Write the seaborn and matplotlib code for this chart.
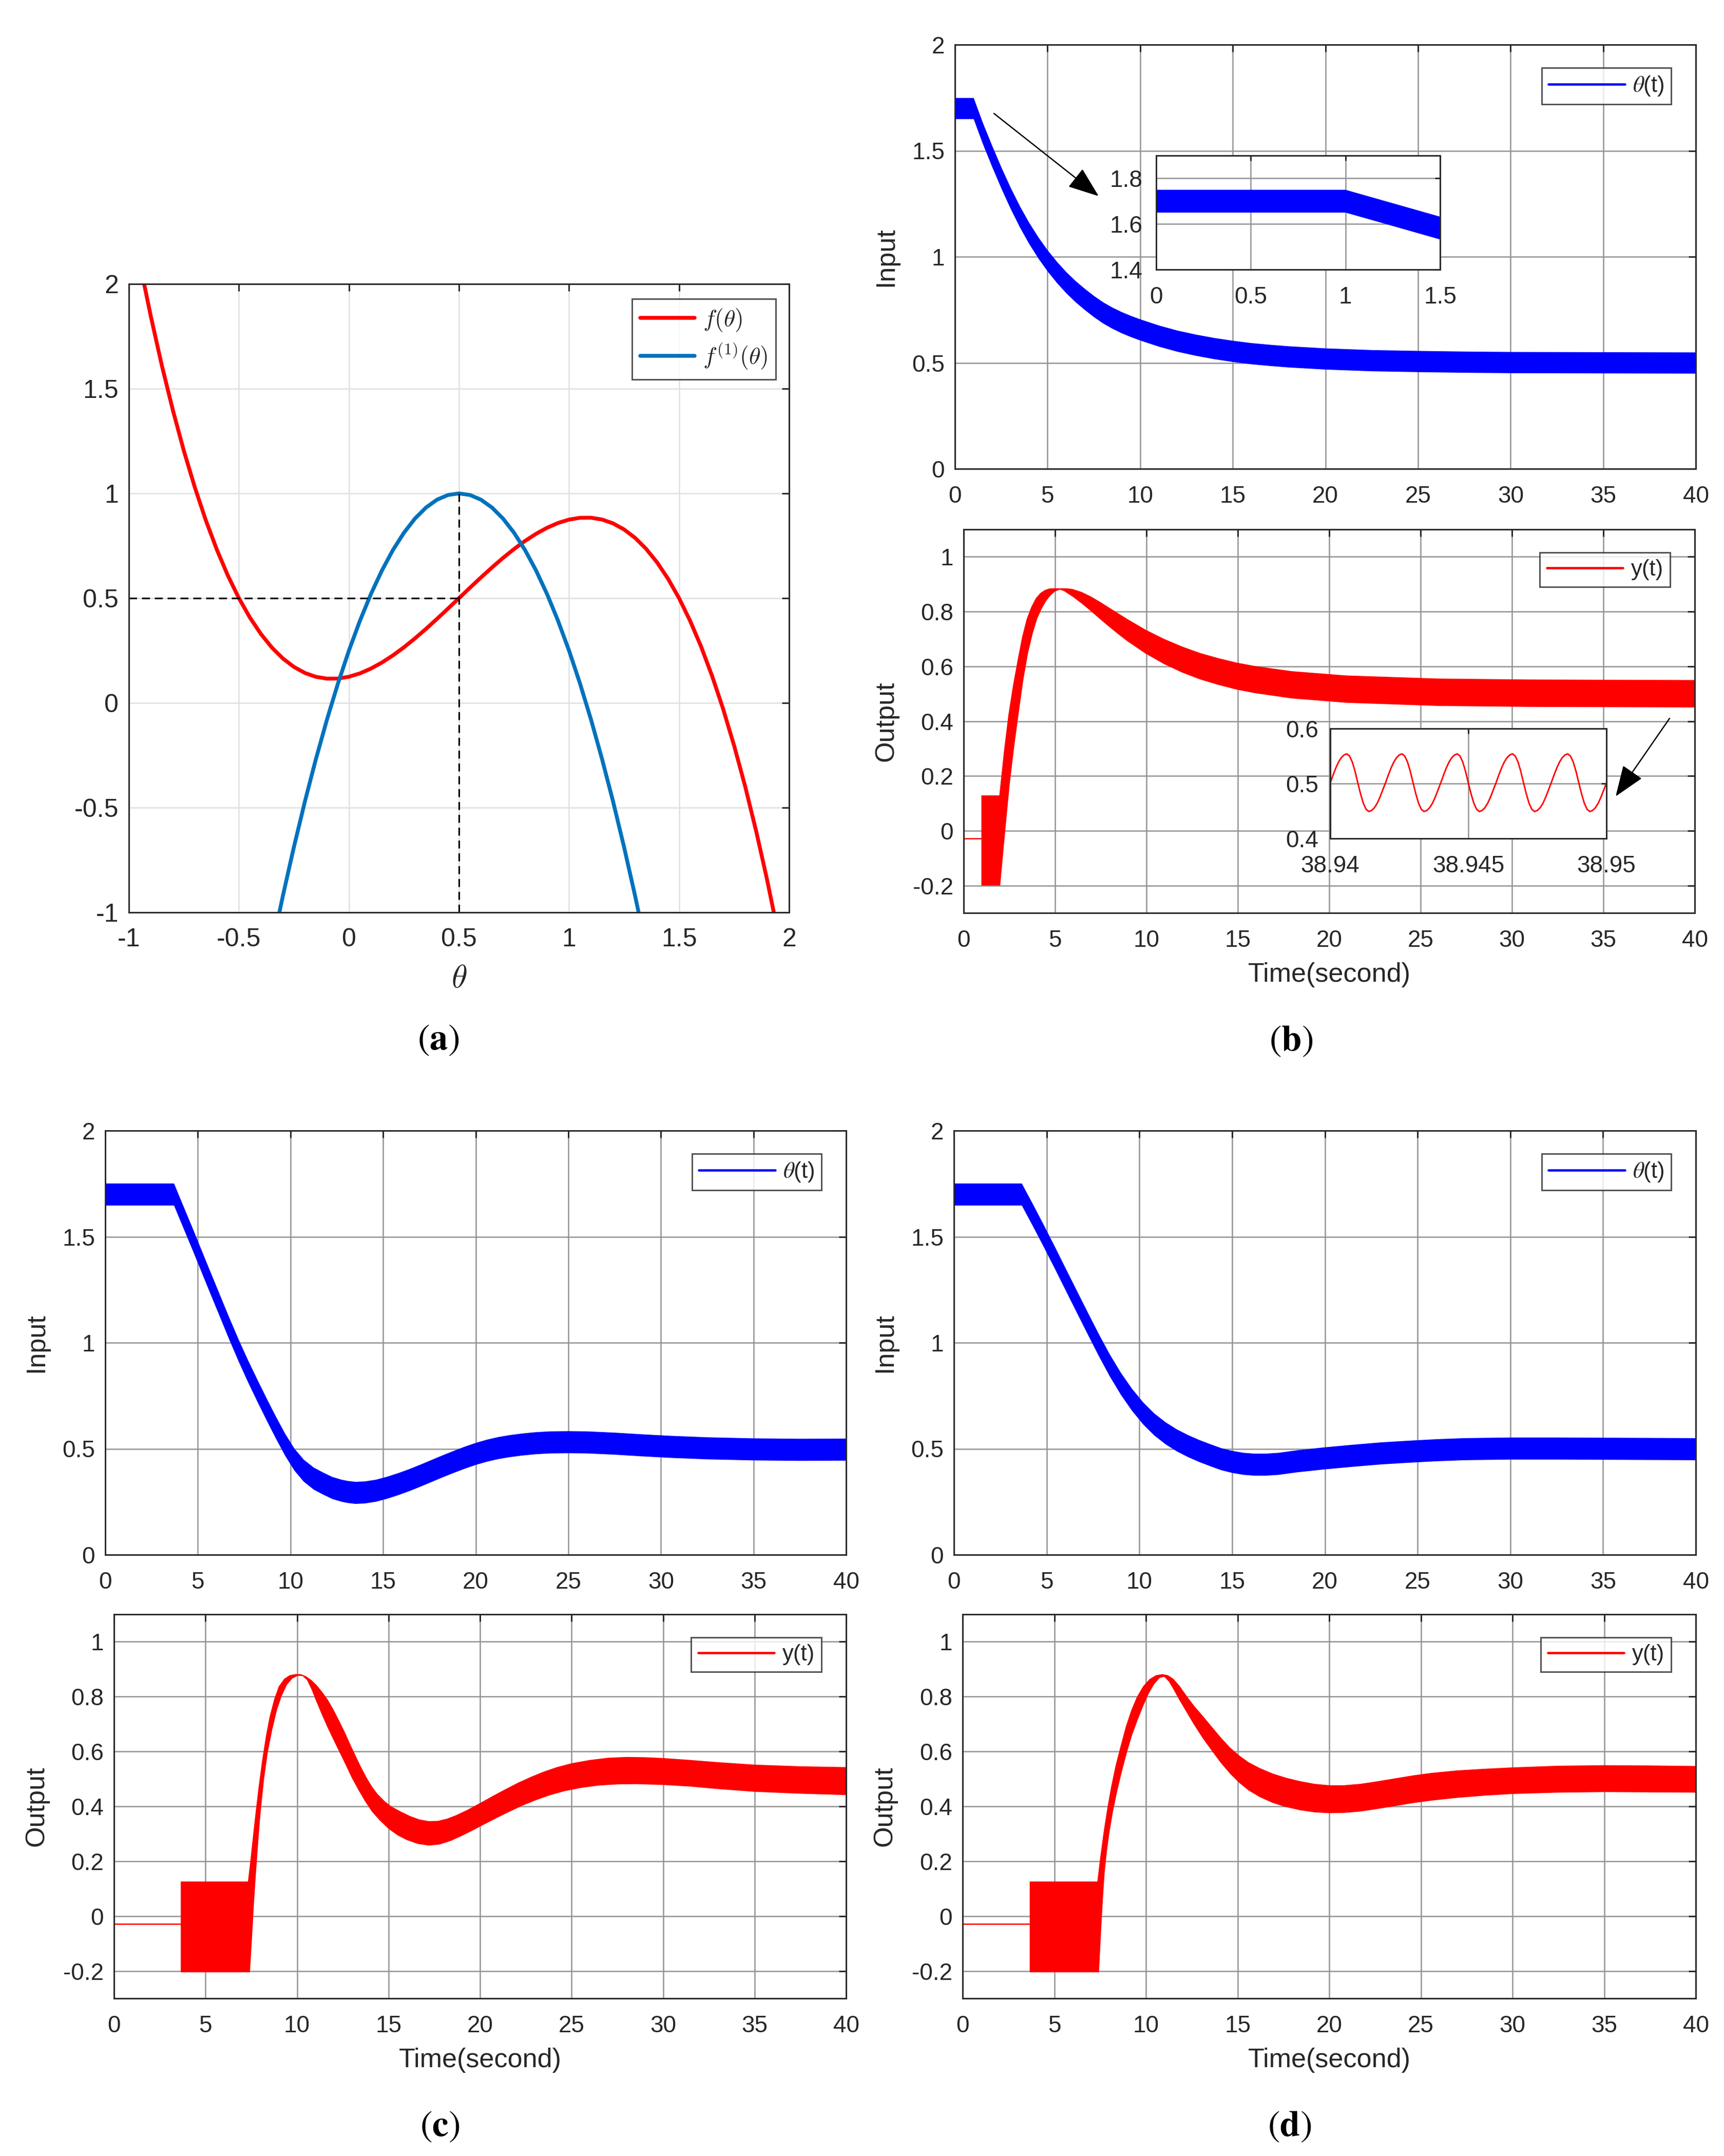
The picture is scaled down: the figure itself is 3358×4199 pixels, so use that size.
import numpy as np
import matplotlib
matplotlib.use("Agg")
import matplotlib.pyplot as plt
import seaborn as sns
from matplotlib.lines import Line2D
from matplotlib.patches import FancyArrowPatch
from matplotlib.ticker import FormatStrFormatter

# ---------------- data ----------------
# panel (a): f(theta) and its first derivative
theta_a = [-0.95, -0.90, -0.85, -0.80, -0.75, -0.70, -0.65, -0.60, -0.55, -0.50,
           -0.45, -0.40, -0.35, -0.30, -0.25, -0.20, -0.15, -0.10, -0.05, 0.00,
           0.05, 0.10, 0.15, 0.20, 0.25, 0.30, 0.35, 0.40, 0.45, 0.50,
           0.55, 0.60, 0.65, 0.70, 0.75, 0.80, 0.85, 0.90, 0.95, 1.00,
           1.05, 1.10, 1.15, 1.20, 1.25, 1.30, 1.35, 1.40, 1.45, 1.50,
           1.55, 1.60, 1.65, 1.70, 1.75, 1.80, 1.85, 1.90, 1.95]
f_a = [2.0986, 1.844, 1.6104, 1.397, 1.2031, 1.028, 0.8709, 0.731, 0.6076, 0.5,
       0.4074, 0.329, 0.2641, 0.212, 0.1719, 0.143, 0.1246, 0.116, 0.1164, 0.125,
       0.1411, 0.164, 0.1929, 0.227, 0.2656, 0.308, 0.3534, 0.401, 0.4501, 0.5,
       0.5499, 0.599, 0.6466, 0.692, 0.7344, 0.773, 0.8071, 0.836, 0.8589, 0.875,
       0.8836, 0.884, 0.8754, 0.857, 0.8281, 0.788, 0.7359, 0.671, 0.5926, 0.5,
       0.3924, 0.269, 0.1291, -0.028, -0.2031, -0.397, -0.6104, -0.844, -1.0986]
theta_d = [-0.35, -0.30, -0.25, -0.20, -0.15, -0.10, -0.05, 0.00, 0.05, 0.10,
           0.15, 0.20, 0.25, 0.30, 0.35, 0.40, 0.45, 0.50, 0.55, 0.60,
           0.65, 0.70, 0.75, 0.80, 0.85, 0.90, 0.95, 1.00, 1.05, 1.10,
           1.15, 1.20, 1.25, 1.30, 1.35]
fd_a = [-1.1675, -0.92, -0.6875, -0.47, -0.2675, -0.08, 0.0925, 0.25, 0.3925, 0.52,
        0.6325, 0.73, 0.8125, 0.88, 0.9325, 0.97, 0.9925, 1.0, 0.9925, 0.97,
        0.9325, 0.88, 0.8125, 0.73, 0.6325, 0.52, 0.3925, 0.25, 0.0925, -0.08,
        -0.2675, -0.47, -0.6875, -0.92, -1.1675]
guide_h_x = [-1.0, 0.5]
guide_h_y = [0.5, 0.5]
guide_v_x = [0.5, 0.5]
guide_v_y = [-1.0, 1.0]

# panel (b): input band theta(t) (upper / lower envelope)
t_b_in = [0, 1.0, 1.5, 2.0, 2.5, 3.0, 3.5, 4.0, 4.5, 5.0, 5.5, 6.0, 6.5, 7.0, 7.5, 8.0,
          8.5, 9.0, 9.5, 10, 11, 12, 13, 14, 15, 16, 17, 18, 20, 22.5, 25, 27.5, 30, 35, 40]
up_b_in = [1.75, 1.75, 1.632, 1.524, 1.422, 1.326, 1.239, 1.161, 1.092, 1.031,
           0.977, 0.929, 0.887, 0.85, 0.816, 0.786, 0.761, 0.74, 0.722, 0.706,
           0.677, 0.653, 0.634, 0.618, 0.605, 0.594, 0.586, 0.579, 0.569, 0.561,
           0.557, 0.554, 0.552, 0.551, 0.55]
lo_b_in = [1.65, 1.65, 1.532, 1.424, 1.322, 1.226, 1.139, 1.061, 0.992, 0.931,
           0.877, 0.829, 0.787, 0.75, 0.716, 0.686, 0.661, 0.64, 0.622, 0.606,
           0.577, 0.553, 0.534, 0.518, 0.505, 0.494, 0.486, 0.479, 0.469, 0.461,
           0.457, 0.454, 0.452, 0.451, 0.45]
# panel (b): output band y(t)
t_b_pre = [0, 0.97]
y_b_pre = [-0.029, -0.029]
t_b_up = [0.97, 1.95, 2.2, 2.45, 2.7, 2.95, 3.2, 3.45, 3.7, 3.95, 4.2, 4.45, 4.7, 4.95,
          5.63, 5.95, 6.45, 6.95, 7.45, 7.95, 8.45, 8.95, 9.95, 10.95, 11.95, 12.95,
          13.95, 14.95, 15.95, 17.95, 20.95, 25.95, 30.95, 40]
y_b_up = [0.129, 0.129, 0.287, 0.424, 0.531, 0.622, 0.708, 0.773, 0.817, 0.849,
          0.868, 0.879, 0.8845, 0.885, 0.885, 0.8825, 0.8718, 0.8556, 0.836, 0.815,
          0.794, 0.773, 0.734, 0.7007, 0.6724, 0.6485, 0.6297, 0.6135, 0.601, 0.5824,
          0.5667, 0.5555, 0.552, 0.55]
t_b_lo = [0.97, 2.0, 2.27, 2.52, 2.77, 3.02, 3.27, 3.52, 3.77, 4.02, 4.27, 4.52, 4.77,
          5.02, 5.27, 5.5, 5.7, 5.95, 6.45, 6.95, 7.45, 7.95, 8.45, 8.95, 9.95, 10.95,
          11.95, 12.95, 13.95, 14.95, 15.95, 17.95, 20.95, 25.95, 30.95, 40]
y_b_lo = [-0.2, -0.2, -0.005, 0.17, 0.31, 0.433, 0.552, 0.647, 0.718, 0.773,
          0.81, 0.839, 0.86, 0.874, 0.88, 0.8745, 0.8655, 0.8548, 0.8296, 0.802,
          0.773, 0.7448, 0.7178, 0.692, 0.6466, 0.6087, 0.5775, 0.552, 0.532, 0.515,
          0.502, 0.483, 0.467, 0.4555, 0.452, 0.45]
# panel (b) output inset: y(t) on 38.94 .. 38.95 s
y_inset = [0.501, 0.515, 0.528, 0.539, 0.547, 0.552, 0.554, 0.550, 0.539, 0.522,
           0.501, 0.481, 0.464, 0.453, 0.449, 0.451, 0.456, 0.464, 0.475, 0.488,
           0.501, 0.515, 0.528, 0.539, 0.547, 0.552, 0.554, 0.550, 0.539, 0.522,
           0.501, 0.481, 0.464, 0.453, 0.449, 0.451, 0.456, 0.464, 0.475, 0.488,
           0.501, 0.515, 0.528, 0.539, 0.547, 0.552, 0.554, 0.550, 0.539, 0.522,
           0.501, 0.481, 0.464, 0.453, 0.449, 0.451, 0.456, 0.464, 0.475, 0.488,
           0.501, 0.515, 0.528, 0.539, 0.547, 0.552, 0.554, 0.550, 0.539, 0.522,
           0.501, 0.481, 0.464, 0.453, 0.449, 0.451, 0.456, 0.464, 0.475, 0.488,
           0.501, 0.515, 0.528, 0.539, 0.547, 0.552, 0.554, 0.550, 0.539, 0.522,
           0.501, 0.481, 0.464, 0.453, 0.449, 0.451, 0.456, 0.464, 0.475, 0.488,
           0.501]
t_inset = np.linspace(38.94, 38.95, len(y_inset))

# panel (c)
t_c_in = [0, 3.7, 4.2, 4.7, 5.2, 5.7, 6.2, 6.7, 7.2, 7.7, 8.2, 8.7, 9.2, 9.7, 10.2, 10.7,
          11.25, 11.75, 12.25, 12.75, 13.1, 13.5, 14.0, 14.6, 15.2, 15.8, 16.4, 17.0,
          17.6, 18.2, 18.8, 19.4, 20.0, 20.6, 21.2, 21.8, 22.5, 23.2, 24.0, 25.0, 26.0,
          27.5, 29.0, 30.5, 32.5, 35, 37.5, 40]
up_c_in = [1.752, 1.752, 1.647, 1.542, 1.435, 1.328, 1.222, 1.116, 1.014, 0.918,
           0.827, 0.739, 0.653, 0.572, 0.502, 0.45, 0.412, 0.389, 0.368, 0.355,
           0.349, 0.345, 0.347, 0.355, 0.369, 0.386, 0.405, 0.426, 0.448, 0.47,
           0.491, 0.511, 0.529, 0.544, 0.556, 0.565, 0.573, 0.579, 0.583, 0.584,
           0.583, 0.577, 0.569, 0.562, 0.555, 0.55, 0.548, 0.549]
lo_c_in = [1.648, 1.648, 1.543, 1.438, 1.331, 1.224, 1.118, 1.012, 0.91, 0.814,
           0.723, 0.635, 0.549, 0.468, 0.398, 0.346, 0.308, 0.285, 0.264, 0.251,
           0.245, 0.241, 0.243, 0.251, 0.265, 0.282, 0.301, 0.322, 0.344, 0.366,
           0.387, 0.407, 0.425, 0.44, 0.452, 0.461, 0.469, 0.475, 0.479, 0.48,
           0.479, 0.473, 0.465, 0.458, 0.451, 0.446, 0.444, 0.445]
t_c_pre = [0, 3.65]
y_c_pre = [-0.029, -0.029]
t_c_up = [3.65, 7.32, 7.45, 7.6, 7.75, 7.9, 8.1, 8.3, 8.5, 8.75, 9.0, 9.3, 9.6, 9.9,
          10.2, 10.5, 10.8, 11.1, 11.4, 11.7, 12.0, 12.3, 12.6, 12.9, 13.2, 13.5, 13.8,
          14.1, 14.4, 14.8, 15.2, 15.7, 16.2, 16.7, 17.2, 17.7, 18.2, 18.7, 19.3, 20.0,
          20.7, 21.4, 22.1, 22.8, 23.5, 24.2, 25.0, 26.0, 27.0, 28.0, 29.0, 30.0, 31.5,
          33.0, 35.0, 37.5, 40.0]
y_c_up = [0.126, 0.126, 0.20, 0.295, 0.385, 0.47, 0.57, 0.655, 0.725, 0.79,
          0.837, 0.865, 0.878, 0.882, 0.882, 0.874, 0.86, 0.84, 0.815, 0.787,
          0.752, 0.713, 0.672, 0.628, 0.585, 0.543, 0.505, 0.472, 0.445, 0.418,
          0.398, 0.38, 0.364, 0.352, 0.346, 0.347, 0.355, 0.368, 0.387, 0.412,
          0.438, 0.463, 0.487, 0.508, 0.527, 0.543, 0.557, 0.569, 0.577, 0.58,
          0.579, 0.576, 0.569, 0.561, 0.552, 0.546, 0.543]
t_c_lo = [3.65, 7.43, 7.55, 7.65, 7.75, 7.87, 8.0, 8.2, 8.4, 8.65, 8.9, 9.15, 9.45,
          9.75, 10.05, 10.3, 10.55, 10.8, 11.05, 11.35, 11.65, 11.95, 12.3, 12.65,
          13.0, 13.35, 13.7, 14.1, 14.5, 15.0, 15.5, 16.0, 16.6, 17.2, 17.8, 18.4,
          19.0, 19.6, 20.2, 20.9, 21.6, 22.3, 23.0, 23.8, 24.6, 25.5, 26.5, 27.5,
          28.5, 30.0, 31.5, 33.0, 35.0, 37.5, 40.0]
y_c_lo = [-0.205, -0.205, -0.07, 0.05, 0.15, 0.26, 0.37, 0.50, 0.595, 0.68,
          0.75, 0.80, 0.843, 0.866, 0.876, 0.875, 0.86, 0.825, 0.783, 0.735,
          0.69, 0.648, 0.60, 0.552, 0.503, 0.46, 0.42, 0.38, 0.35, 0.318,
          0.294, 0.277, 0.263, 0.257, 0.261, 0.274, 0.292, 0.312, 0.333, 0.357,
          0.38, 0.402, 0.421, 0.44, 0.455, 0.467, 0.476, 0.48, 0.481, 0.478,
          0.472, 0.463, 0.453, 0.446, 0.441]

# panel (d)
t_d_in = [0, 3.65, 4.2, 4.8, 5.4, 6.0, 6.6, 7.2, 7.8, 8.4, 9.0, 9.6, 10.2, 10.8, 11.4,
          12.0, 12.6, 13.2, 13.8, 14.4, 15.0, 15.6, 16.2, 16.8, 17.5, 18.5, 20, 21.5,
          23, 24.5, 26, 27.5, 30, 32.5, 35, 40]
up_d_in = [1.752, 1.752, 1.662, 1.562, 1.459, 1.354, 1.249, 1.145, 1.042, 0.945,
           0.858, 0.783, 0.719, 0.667, 0.626, 0.593, 0.566, 0.543, 0.523, 0.504,
           0.491, 0.482, 0.478, 0.478, 0.482, 0.494, 0.508, 0.52, 0.531, 0.539,
           0.546, 0.551, 0.554, 0.554, 0.553, 0.551]
lo_d_in = [1.648, 1.648, 1.558, 1.458, 1.355, 1.25, 1.145, 1.041, 0.938, 0.841,
           0.754, 0.679, 0.615, 0.563, 0.522, 0.489, 0.462, 0.439, 0.419, 0.40,
           0.387, 0.378, 0.374, 0.374, 0.378, 0.39, 0.404, 0.416, 0.427, 0.435,
           0.442, 0.447, 0.45, 0.45, 0.449, 0.447]
t_d_pre = [0, 3.66]
y_d_pre = [-0.029, -0.029]
t_d_up = [3.66, 7.35, 7.5, 7.7, 7.9, 8.1, 8.35, 8.6, 8.9, 9.2, 9.5, 9.85, 10.2, 10.55,
          10.9, 11.2, 11.5, 11.85, 12.25, 12.65, 13.1, 13.6, 14.1, 14.6, 15.1, 15.6,
          16.2, 16.9, 17.6, 18.4, 19.2, 20.0, 20.8, 21.7, 22.6, 23.6, 24.6, 25.6, 27.0,
          28.5, 30.0, 32.5, 35.0, 37.5, 40.0]
y_d_up = [0.126, 0.126, 0.21, 0.31, 0.395, 0.47, 0.55, 0.615, 0.69, 0.75,
          0.798, 0.838, 0.864, 0.878, 0.882, 0.878, 0.865, 0.838, 0.80, 0.765,
          0.73, 0.69, 0.65, 0.614, 0.585, 0.561, 0.54, 0.52, 0.505, 0.492,
          0.482, 0.477, 0.477, 0.482, 0.491, 0.502, 0.513, 0.522, 0.531, 0.537,
          0.542, 0.548, 0.55, 0.549, 0.547]
t_d_lo = [3.66, 7.44, 7.55, 7.65, 7.75, 7.87, 8.0, 8.2, 8.45, 8.7, 8.96, 9.25, 9.55,
          9.85, 10.15, 10.45, 10.75, 11.0, 11.25, 11.5, 11.8, 12.2, 12.6, 13.1, 13.6,
          14.1, 14.6, 15.1, 15.6, 16.2, 16.9, 17.6, 18.4, 19.2, 20.0, 20.8, 21.7, 22.6,
          23.6, 24.6, 25.6, 27.0, 28.5, 30.0, 32.5, 35.0, 37.5, 40.0]
y_d_lo = [-0.205, -0.205, -0.06, 0.06, 0.16, 0.235, 0.30, 0.38, 0.46, 0.53,
          0.595, 0.66, 0.715, 0.765, 0.81, 0.845, 0.868, 0.872, 0.855, 0.827,
          0.79, 0.745, 0.70, 0.648, 0.602, 0.557, 0.518, 0.485, 0.458, 0.434,
          0.413, 0.398, 0.386, 0.378, 0.375, 0.376, 0.381, 0.39, 0.401, 0.412,
          0.421, 0.431, 0.439, 0.445, 0.45, 0.452, 0.451, 0.45]

time_ticks = [0, 5, 10, 15, 20, 25, 30, 35, 40]
input_ticks = [0, 0.5, 1, 1.5, 2]
output_ticks = [-0.2, 0, 0.2, 0.4, 0.6, 0.8, 1]
a_ticks = [-1, -0.5, 0, 0.5, 1, 1.5, 2]

# ---------------- style ----------------
sns.set_theme(style="white")
plt.rcParams['font.family'] = ['Liberation Sans', 'DejaVu Sans']
plt.rcParams['axes.unicode_minus'] = False
DARK = '#262626'
plt.rcParams['text.color'] = DARK

W, H = 3358, 4199
fig = plt.figure(figsize=(W / 300, H / 300), dpi=300)
fig.patch.set_facecolor('white')


def box(x0, y0, x1, y1):
    return [x0 / W, 1 - y1 / H, (x1 - x0) / W, (y1 - y0) / H]


def style(ax, xlim, ylim, xticks, yticks, gcolor, fs=11, xpad=7.6, ypad=4.8, tlen=3.4):
    ax.set_xlim(*xlim)
    ax.set_ylim(*ylim)
    ax.set_xticks(xticks)
    ax.set_yticks(yticks)
    ax.xaxis.set_major_formatter(FormatStrFormatter('%g'))
    ax.yaxis.set_major_formatter(FormatStrFormatter('%g'))
    ax.tick_params(direction='in', top=True, right=True, length=tlen, width=0.7,
                   colors=DARK, labelsize=fs)
    ax.tick_params(axis='x', pad=xpad)
    ax.tick_params(axis='y', pad=ypad)
    ax.grid(True, color=gcolor, lw=0.6)
    ax.set_axisbelow(True)
    ax.set_facecolor('white')
    for s in ax.spines.values():
        s.set_visible(True)
        s.set_color(DARK)
        s.set_linewidth(0.7)
    ax.set_xlabel('')
    ax.set_ylabel('')


GRID_A = '#e0e0e0'
GRID = '#939393'
BLUE = '#0000ff'
RED = '#ff0000'


def legend(ax, color, label, aw, ah, math='stix'):
    leg = ax.legend(handles=[Line2D([], [], color=color, lw=1.1)], labels=[label],
                    loc='upper right', bbox_to_anchor=(1 - 48 / aw, 1 - 45 / ah),
                    borderaxespad=0, fontsize=10.5, frameon=True, fancybox=False,
                    edgecolor=DARK, handlelength=3.4, handletextpad=0.35, borderpad=0.3)
    leg.get_frame().set_linewidth(0.7)
    for t in leg.get_texts():
        t.set_math_fontfamily(math)
    return leg


# ---------------- panel (a) ----------------
ax = fig.add_axes(box(251, 553, 1537, 1777))
sns.lineplot(x=theta_a, y=f_a, ax=ax, color=RED, lw=1.8, estimator=None, sort=False)
sns.lineplot(x=theta_d, y=fd_a, ax=ax, color='#0072bd', lw=1.8, estimator=None, sort=False)
sns.lineplot(x=guide_h_x, y=guide_h_y, ax=ax, color='black', lw=0.75,
             estimator=None, sort=False).lines[-1].set_dashes((5, 3))
sns.lineplot(x=guide_v_x, y=guide_v_y, ax=ax, color='black', lw=0.75,
             estimator=None, sort=False).lines[-1].set_dashes((5, 3))
style(ax, (-1, 2), (-1, 2), a_ticks, a_ticks, GRID_A, fs=12, xpad=7.2)
ax.set_xlabel(r'$\theta$', fontsize=15, math_fontfamily='cm')
ax.xaxis.set_label_coords(0.5, -0.082)
lega = ax.legend(handles=[Line2D([], [], color=RED, lw=1.8), Line2D([], [], color='#0072bd', lw=1.8)],
                 labels=[r'$f(\theta)$', r'$f^{(1)}(\theta)$'], loc='upper right',
                 bbox_to_anchor=(1 - 26 / 1286, 1 - 29 / 1224), borderaxespad=0,
                 fontsize=11, frameon=True, fancybox=False, edgecolor=DARK,
                 handlelength=2.3, handletextpad=0.35, borderpad=0.35, labelspacing=0.35)
lega.get_frame().set_linewidth(0.7)
for t in lega.get_texts():
    t.set_math_fontfamily('cm')


# ---------------- generic band panels ----------------
def input_panel(rect, t, lo, up, aw):
    ax = fig.add_axes(rect)
    ax.fill_between(t, lo, up, color=BLUE, lw=0, zorder=2)
    style(ax, (0, 40), (0, 2), time_ticks, input_ticks, GRID)
    ax.set_ylabel('Input', fontsize=12.5, color=DARK)
    ax.yaxis.set_label_coords(-0.076, 0.5)
    legend(ax, BLUE, r'$\theta$(t)', aw, 826)
    return ax


def output_panel(rect, t_pre, y_pre, t_up, y_up, t_lo, y_lo, aw):
    ax = fig.add_axes(rect)
    sns.lineplot(x=t_pre, y=y_pre, ax=ax, color=RED, lw=0.6, estimator=None, sort=False)
    ax.fill(list(t_up) + list(t_lo)[::-1], list(y_up) + list(y_lo)[::-1],
            color=RED, lw=0, zorder=2)
    style(ax, (0, 40), (-0.3, 1.1), time_ticks, output_ticks, GRID)
    ax.set_ylabel('Output', fontsize=12.5, color=DARK)
    ax.yaxis.set_label_coords(-0.089, 0.5)
    ax.set_xlabel('Time(second)', fontsize=12.5, color=DARK)
    ax.xaxis.set_label_coords(0.5, -0.128)
    legend(ax, RED, 'y(t)', aw, 747)
    return ax


# ---------------- panel (b) ----------------
axb1 = input_panel(box(1860, 87, 3303, 913), t_b_in, lo_b_in, up_b_in, 1443)
axb2 = output_panel(box(1877, 1031, 3301, 1778), t_b_pre, y_b_pre, t_b_up, y_b_up,
                    t_b_lo, y_b_lo, 1424)

ins1 = fig.add_axes(box(2252, 303, 2805, 525))
ins1.fill_between(t_b_in, lo_b_in, up_b_in, color=BLUE, lw=0, zorder=2)
style(ins1, (0, 1.5), (1.4, 1.9), [0, 0.5, 1, 1.5], [1.4, 1.6, 1.8], GRID, fs=11,
      xpad=7.6, ypad=6.5, tlen=2.5)

ins2 = fig.add_axes(box(2591, 1419, 3129, 1633))
sns.lineplot(x=t_inset, y=y_inset, ax=ins2, color=RED, lw=0.7, estimator=None, sort=False)
style(ins2, (38.94, 38.95), (0.4, 0.6), [38.94, 38.945, 38.95], [0.4, 0.5, 0.6], GRID,
      fs=11, xpad=7.6, ypad=5.5, tlen=2.5)

for (x0, y0), (x1, y1) in [((1936, 221), (2140, 382)), ((3252, 1399), (3147, 1551))]:
    arr = FancyArrowPatch((x0 / W, 1 - y0 / H), (x1 / W, 1 - y1 / H),
                          transform=fig.transFigure,
                          arrowstyle='-|>,head_length=0.45,head_width=0.17',
                          mutation_scale=28, lw=0.6, color='black',
                          shrinkA=0, shrinkB=0)
    fig.add_artist(arr)

# ---------------- panel (c) ----------------
input_panel(box(205, 2202, 1648, 3028), t_c_in, lo_c_in, up_c_in, 1443)
output_panel(box(222, 3144, 1648, 3892), t_c_pre, y_c_pre, t_c_up, y_c_up,
             t_c_lo, y_c_lo, 1426)

# ---------------- panel (d) ----------------
input_panel(box(1858, 2202, 3303, 3028), t_d_in, lo_d_in, up_d_in, 1445)
output_panel(box(1875, 3144, 3303, 3892), t_d_pre, y_d_pre, t_d_up, y_d_up,
             t_d_lo, y_d_lo, 1428)

# ---------------- captions ----------------
for lab, x, y in [('a', 854, 2026), ('b', 2515, 2028), ('c', 857, 4142), ('d', 2512, 4142)]:
    fig.text(x / W, 1 - y / H, r'$(\mathbf{%s})$' % lab, fontsize=17,
             math_fontfamily='stix', ha='center', va='center', color='black')

fig.savefig('out.png', dpi=300, facecolor='white')
